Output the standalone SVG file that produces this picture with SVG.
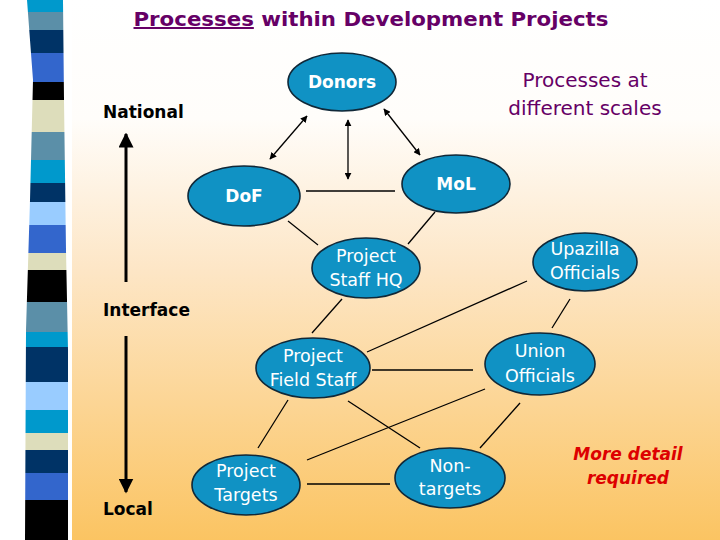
<svg xmlns="http://www.w3.org/2000/svg" width="720" height="540" viewBox="0 0 720 540">
<defs>
<linearGradient id="bg" x1="0" y1="0" x2="0" y2="1">
<stop offset="0" stop-color="#FFFFFF"/>
<stop offset="0.22" stop-color="#FFFDFA"/>
<stop offset="0.5" stop-color="#FDE6C6"/>
<stop offset="1" stop-color="#FBC462"/>
</linearGradient>
<clipPath id="stripeClip">
<polygon points="27,0 63,0 64,100 66,250 68,350 68,540 25,540 26,330 30,200 33,80"/>
</clipPath>
<marker id="ah" viewBox="0 0 10 10" refX="9" refY="5" markerWidth="7" markerHeight="7" markerUnits="userSpaceOnUse" orient="auto-start-reverse">
<path d="M0,0 L10,5 L0,10 z" fill="#000"/>
</marker>
<marker id="bigah" viewBox="0 0 10 10" refX="9" refY="5" markerWidth="5" markerHeight="5" orient="auto-start-reverse">
<path d="M0,0 L10,5 L0,10 z" fill="#000"/>
</marker>
</defs>
<style>
.node ellipse { fill:#1092C4; stroke:#102838; stroke-width:1.6; }
.nt { font-family:"DejaVu Sans", Verdana, sans-serif; font-size:17.5px; fill:#FFFFFF; text-anchor:middle; }
.nb { font-family:"DejaVu Sans", Verdana, sans-serif; font-size:17px; font-weight:bold; fill:#FFFFFF; text-anchor:middle; }
.conn line { stroke:#000; stroke-width:1.3; }
.lbl { font-family:"DejaVu Sans", Verdana, sans-serif; font-size:17px; font-weight:bold; fill:#000; }
</style>
<rect x="0" y="0" width="720" height="540" fill="#FFFFFF"/>
<rect x="72" y="0" width="648" height="540" fill="url(#bg)"/>
<g id="stripe" clip-path="url(#stripeClip)">
<rect x="20" y="0" width="55" height="12" fill="#0099CC"/>
<rect x="20" y="12" width="55" height="18" fill="#5B8FA8"/>
<rect x="20" y="30" width="55" height="23" fill="#003366"/>
<rect x="20" y="53" width="55" height="29" fill="#3366CC"/>
<rect x="20" y="82" width="55" height="18" fill="#000000"/>
<rect x="20" y="100" width="55" height="32" fill="#DDDDBB"/>
<rect x="20" y="132" width="55" height="28" fill="#5B8FA8"/>
<rect x="20" y="160" width="55" height="23" fill="#0099CC"/>
<rect x="20" y="183" width="55" height="19" fill="#003366"/>
<rect x="20" y="202" width="55" height="23" fill="#99CCFF"/>
<rect x="20" y="225" width="55" height="28" fill="#3366CC"/>
<rect x="20" y="253" width="55" height="17" fill="#DDDDBB"/>
<rect x="20" y="270" width="55" height="32" fill="#000000"/>
<rect x="20" y="302" width="55" height="30" fill="#5B8FA8"/>
<rect x="20" y="332" width="55" height="15" fill="#0099CC"/>
<rect x="20" y="347" width="55" height="35" fill="#003366"/>
<rect x="20" y="382" width="55" height="28" fill="#99CCFF"/>
<rect x="20" y="410" width="55" height="23" fill="#0099CC"/>
<rect x="20" y="433" width="55" height="17" fill="#DDDDBB"/>
<rect x="20" y="450" width="55" height="23" fill="#003366"/>
<rect x="20" y="473" width="55" height="27" fill="#3366CC"/>
<rect x="20" y="500" width="55" height="40" fill="#000000"/>
</g>
<text x="371" y="26" font-family="DejaVu Sans, Verdana, sans-serif" font-size="20" font-weight="bold" fill="#660066" text-anchor="middle" textLength="475" lengthAdjust="spacingAndGlyphs"><tspan text-decoration="underline">Processes</tspan> within Development Projects</text>
<g id="scale-labels">
<text class="lbl" x="103" y="118">National</text>
<text class="lbl" x="103" y="316">Interface</text>
<text class="lbl" x="103" y="515">Local</text>
<line x1="126" y1="282" x2="126" y2="134" stroke="#000" stroke-width="3" marker-end="url(#bigah)"/>
<line x1="126" y1="336" x2="126" y2="492" stroke="#000" stroke-width="3" marker-end="url(#bigah)"/>
</g>
<g id="note-scales" font-family="DejaVu Sans, Verdana, sans-serif" font-size="20" fill="#660066" text-anchor="middle">
<text x="585" y="87">Processes at</text>
<text x="585" y="115">different scales</text>
</g>
<g id="note-detail" font-family="DejaVu Sans, Verdana, sans-serif" font-size="17" font-weight="bold" font-style="italic" fill="#DD0000" text-anchor="middle">
<text x="628" y="460">More detail</text>
<text x="628" y="484">required</text>
</g>
<g id="connectors" class="conn">
<line x1="270" y1="159" x2="307" y2="116" marker-start="url(#ah)" marker-end="url(#ah)"/>
<line x1="348" y1="120" x2="348" y2="179" marker-start="url(#ah)" marker-end="url(#ah)"/>
<line x1="384" y1="109" x2="420" y2="155" marker-start="url(#ah)" marker-end="url(#ah)"/>
<line x1="306" y1="191" x2="395" y2="191"/>
<line x1="288" y1="221" x2="318" y2="245"/>
<line x1="408" y1="244" x2="435" y2="212"/>
<line x1="342" y1="299" x2="312" y2="333"/>
<line x1="527" y1="281" x2="367" y2="352"/>
<line x1="570" y1="299" x2="552" y2="328"/>
<line x1="372" y1="370" x2="473" y2="370"/>
<line x1="485" y1="389" x2="307" y2="460"/>
<line x1="288" y1="400" x2="258" y2="448"/>
<line x1="348" y1="401" x2="420" y2="448"/>
<line x1="520" y1="403" x2="480" y2="448"/>
<line x1="307" y1="484" x2="390" y2="484"/>
</g>
<g id="donors" class="node"><ellipse cx="342" cy="82" rx="54" ry="29"/><text class="nb" x="342" y="88">Donors</text></g>
<g id="mol" class="node"><ellipse cx="456" cy="184" rx="54" ry="29"/><text class="nb" x="456" y="190">MoL</text></g>
<g id="dof" class="node"><ellipse cx="244" cy="196" rx="56" ry="30"/><text class="nb" x="244" y="202">DoF</text></g>
<g id="pshq" class="node"><ellipse cx="366" cy="268" rx="54" ry="30"/><text class="nt" x="366" y="262">Project</text><text class="nt" x="366" y="286">Staff HQ</text></g>
<g id="upazilla" class="node"><ellipse cx="585" cy="262" rx="52" ry="29"/><text class="nt" x="585" y="255">Upazilla</text><text class="nt" x="585" y="279">Officials</text></g>
<g id="union" class="node"><ellipse cx="540" cy="364" rx="55" ry="31"/><text class="nt" x="540" y="357">Union</text><text class="nt" x="540" y="382">Officials</text></g>
<g id="pfs" class="node"><ellipse cx="313" cy="368" rx="57" ry="30"/><text class="nt" x="313" y="362">Project</text><text class="nt" x="313" y="386">Field Staff</text></g>
<g id="targets" class="node"><ellipse cx="246" cy="485" rx="54" ry="30"/><text class="nt" x="246" y="477">Project</text><text class="nt" x="246" y="501">Targets</text></g>
<g id="nontargets" class="node"><ellipse cx="450" cy="478" rx="55" ry="30"/><text class="nt" x="450" y="472">Non-</text><text class="nt" x="450" y="495">targets</text></g>
</svg>
